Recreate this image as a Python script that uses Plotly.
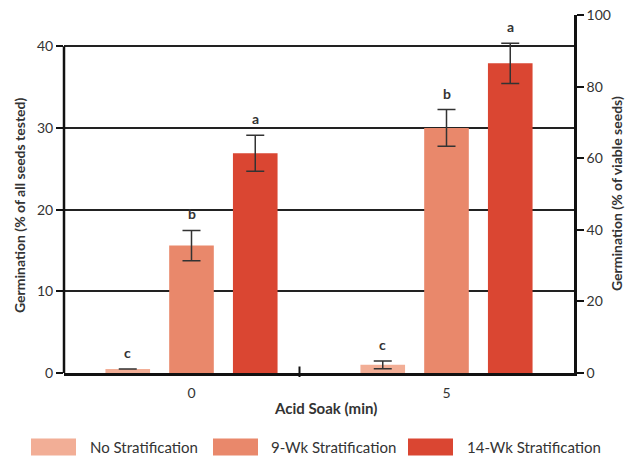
import plotly.graph_objects as go

# ---- data ----
categories = ["0", "5"]
series_names = ["No Stratification", "9-Wk Stratification", "14-Wk Stratification"]
series_colors = ["#F2AE96", "#E9886B", "#DA4632"]
values = {
    "No Stratification": [0.5, 1.0],
    "9-Wk Stratification": [15.6, 30.0],
    "14-Wk Stratification": [26.9, 37.9],
}
errors = {
    "No Stratification": [None, 0.47],
    "9-Wk Stratification": [1.85, 2.25],
    "14-Wk Stratification": [2.2, 2.45],
}
letters = {
    "No Stratification": ["c", "c"],
    "9-Wk Stratification": ["b", "b"],
    "14-Wk Stratification": ["a", "a"],
}
left_ticks = [0, 10, 20, 30, 40]
right_ticks = [0, 20, 40, 60, 80, 100]
x_title = "Acid Soak (min)"
left_title = "Germination (% of all seeds tested)"
right_title = "Germination (% of viable seeds)"

W, H = 626, 458
L, R, T, B = 64, 52, 15, 85
PW, PH = W - L - R, H - T - B

def px(x):
    return (x - L) / PW

def py(y):
    return (H - B - y) / PH

FONT = "Lato"
TXT = "#333333"

fig = go.Figure()
offsets = [-0.25, 0.0, 0.25]
annotations = []
for k, name in enumerate(series_names):
    fig.add_trace(go.Bar(
        x=categories, y=values[name], name=name,
        marker=dict(color=series_colors[k], line=dict(width=0)),
        error_y=dict(type="data", array=errors[name], visible=True,
                     color="#333333", thickness=1.5, width=9),
        showlegend=False,
    ))
    for i, cat in enumerate(categories):
        e = errors[name][i] or 0
        annotations.append(dict(
            x=i + offsets[k], y=values[name][i] + e, xref="x", yref="y",
            text="<b>%s</b>" % letters[name][i], showarrow=False,
            yanchor="bottom", yshift=6, font=dict(family=FONT, size=14, color=TXT),
        ))

# custom legend
leg_swatch_x = [31, 213, 408]
leg_text_x = [88, 269, 465]
shapes = []
for k, name in enumerate(series_names):
    shapes.append(dict(type="rect", xref="paper", yref="paper",
                       x0=px(leg_swatch_x[k]), x1=px(leg_swatch_x[k] + 45),
                       y0=py(438.5), y1=py(455.5),
                       fillcolor=series_colors[k], line=dict(width=0)))
    annotations.append(dict(x=px(leg_text_x[k]), y=py(447), xref="paper", yref="paper",
                            text=name, showarrow=False, xanchor="left", yanchor="middle",
                            font=dict(family=FONT, size=15, color=TXT)))

# left axis line only up to 40
shapes.append(dict(type="line", xref="paper", yref="y", x0=0, x1=0, y0=0, y1=40,
                   line=dict(color="#111111", width=2.5)))
# stray tick on x axis
shapes.append(dict(type="line", xref="paper", yref="paper", x0=px(299.5), x1=px(299.5),
                   y0=py(377), y1=py(366.5), line=dict(color="#111111", width=2)))

# axis titles as annotations
annotations.append(dict(x=px(325), y=py(408), xref="paper", yref="paper",
                        xanchor="center", yanchor="middle",
                        text="<b>%s</b>" % x_title, showarrow=False,
                        font=dict(family=FONT, size=15, color=TXT)))
annotations.append(dict(x=px(19), y=py(206), xref="paper", yref="paper",
                        xanchor="center", yanchor="middle",
                        text="<b>%s</b>" % left_title, showarrow=False, textangle=-90,
                        font=dict(family=FONT, size=14, color=TXT)))
annotations.append(dict(x=px(616), y=py(194), xref="paper", yref="paper",
                        xanchor="center", yanchor="middle",
                        text="<b>%s</b>" % right_title, showarrow=False, textangle=-90,
                        font=dict(family=FONT, size=14, color=TXT)))

fig.update_layout(
    width=W, height=H,
    margin=dict(l=L, r=R, t=T, b=B, pad=0, autoexpand=False),
    paper_bgcolor="white", plot_bgcolor="white",
    barmode="group", bargap=0.25, bargroupgap=0.3,
    font=dict(family=FONT, size=14, color=TXT),
    xaxis=dict(type="category", range=[-0.5, 1.5], showline=True, linecolor="#111111",
               linewidth=2.5, ticks="", showgrid=False, zeroline=False, automargin=False,
               tickfont=dict(family=FONT, size=14, color=TXT), ticklabelstandoff=5),
    yaxis=dict(range=[0, 43.82], tickvals=left_ticks, ticks="outside", ticklen=7,
               tickcolor="#111111", tickwidth=1.5, showgrid=True, gridcolor="#222222",
               gridwidth=1.5, zeroline=False, showline=False, automargin=False,
               tickfont=dict(family=FONT, size=14, color=TXT)),
    yaxis2=dict(range=[0, 100], tickvals=right_ticks, overlaying="y", side="right",
                ticks="outside", ticklen=7, tickcolor="#111111", tickwidth=1.5,
                showgrid=False, zeroline=False, showline=True, linecolor="#111111",
                linewidth=2.5, automargin=False,
                tickfont=dict(family=FONT, size=14, color=TXT)),
    shapes=shapes,
    annotations=annotations,
)
# invisible trace to activate the right axis
fig.add_trace(go.Scatter(x=[categories[0]], y=[0], yaxis="y2", mode="markers",
                         marker=dict(opacity=0), showlegend=False, hoverinfo="skip"))

fig.write_html("out.html", config={"displayModeBar": False},
               post_script="document.body.style.margin='0';document.body.style.overflow='hidden';")
